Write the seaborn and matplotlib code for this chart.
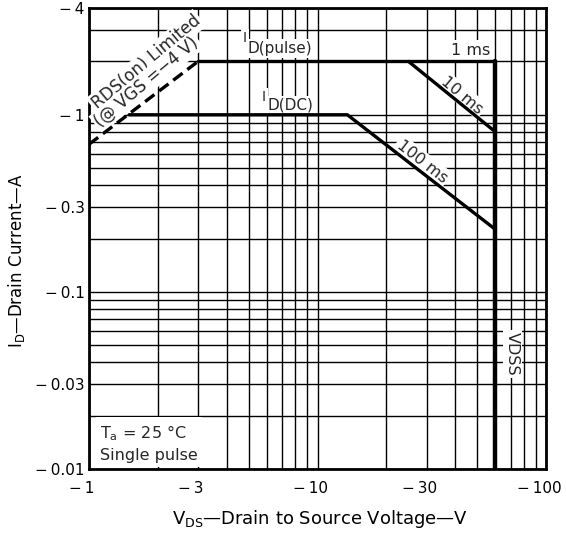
import numpy as np
import matplotlib
matplotlib.use("Agg")
import matplotlib.pyplot as plt
import matplotlib.ticker as mticker
import matplotlib.transforms as mtransforms
import seaborn as sns

sns.set_theme(style="white")
plt.rcParams['font.family'] = ['DejaVu Sans']
plt.rcParams['mathtext.fontset'] = 'dejavusans'

# area of safe operation (magnitudes, V and A)
rds_v = [1.0, 3.0]
rds_i = [0.68, 2.0]
pulse_v = [3.0, 60.0]
pulse_i = [2.0, 2.0]
ms10_v = [25.0, 60.0]
ms10_i = [2.0, 0.8]
dc_v = [1.5, 13.5, 60.0]
dc_i = [1.0, 1.0, 0.225]
vdss_v = [60.0, 60.0]
vdss_i = [2.0, 0.01]

x_ticks = [1, 3, 10, 30, 100]
x_labels = ['\u2212\u20091', '\u2212\u20093', '\u2212\u200910', '\u2212\u200930', '\u2212\u2009100']
y_ticks = [4, 1, 0.3, 0.1, 0.03, 0.01]
y_labels = ['\u2212\u20094', '\u2212\u20091', '\u2212\u20090.3', '\u2212\u20090.1',
            '\u2212\u20090.03', '\u2212\u20090.01']

fig = plt.figure(figsize=(5.66, 5.44), dpi=100)
ax = fig.add_axes([0.157, 0.138, 0.808, 0.847])
ax.set_xscale('log')
ax.set_yscale('log')
ax.set_xlim(1, 100)
ax.set_ylim(0.01, 4)

# log grid
ax.xaxis.set_minor_locator(mticker.LogLocator(base=10, subs=np.arange(1, 10)))
ax.yaxis.set_minor_locator(mticker.LogLocator(base=10, subs=np.arange(1, 10)))
ax.xaxis.set_minor_formatter(mticker.NullFormatter())
ax.yaxis.set_minor_formatter(mticker.NullFormatter())
ax.grid(True, which='both', color='black', lw=1.0)
ax.set_axisbelow(True)

ax.set_xticks(x_ticks)
ax.set_xticklabels(x_labels)
ax.set_yticks(y_ticks)
ax.set_yticklabels(y_labels)
ax.tick_params(which='both', length=0, labelsize=11, colors='black')
ax.tick_params(axis='x', pad=9)
ax.tick_params(axis='y', pad=3)
# minus sign hangs to the left of the number in the datasheet
shift = mtransforms.ScaledTranslation(-7 / 100, 0, fig.dpi_scale_trans)
for lbl in ax.get_xticklabels():
    lbl.set_transform(lbl.get_transform() + shift)

for s in ax.spines.values():
    s.set_color('black')
    s.set_linewidth(2)

kw = dict(ax=ax, color='black', estimator=None, sort=False, legend=False, zorder=5)
sns.lineplot(x=rds_v, y=rds_i, lw=2.4, linestyle=(0, (3.5, 1.8)), **kw)
sns.lineplot(x=pulse_v, y=pulse_i, lw=2.4, **kw)
sns.lineplot(x=ms10_v, y=ms10_i, lw=2.4, **kw)
sns.lineplot(x=dc_v, y=dc_i, lw=2.4, **kw)
sns.lineplot(x=vdss_v, y=vdss_i, lw=3.2, **kw)

box = dict(facecolor='white', edgecolor='none', pad=1.5)
ax.text(1.78, 1.98, 'RDS(on) Limited', rotation=40, ha='center', va='center',
        fontsize=12, bbox=box)
ax.text(1.79, 1.53, '(@ VGS =\u22124 V)', rotation=40, ha='center', va='center',
        fontsize=12, bbox=box)

# I with lowered subscript part, nearly same size as in the datasheet
ax.text(4.72, 2.72, 'I', ha='left', va='center', fontsize=10, bbox=box)
ax.text(4.96, 2.36, 'D(pulse)', ha='left', va='center', fontsize=11, bbox=box)
ax.text(5.72, 1.26, 'I', ha='left', va='center', fontsize=10, bbox=box)
ax.text(6.07, 1.13, 'D(DC)', ha='left', va='center', fontsize=11, bbox=box)

ax.text(46.5, 2.32, '1 ms', ha='center', va='center', fontsize=11.5, bbox=box)
ax.text(42.9, 1.29, '10 ms', rotation=-40, ha='center', va='center', fontsize=11.5, bbox=box)
ax.text(28.7, 0.546, '100 ms', rotation=-38, ha='center', va='center', fontsize=11.5, bbox=box)
ax.text(71, 0.0444, 'VDSS', rotation=270, ha='center', va='center', fontsize=11.5, bbox=box)
ax.text(1.12, 0.0140, 'T$_{\\rm a}$ = 25 \u00b0C\nSingle pulse', ha='left', va='center',
        fontsize=11.5, linespacing=1.45, bbox=dict(facecolor='white', edgecolor='none', pad=3))

ax.set_xlabel('V$_{\\rm DS}$\u2014Drain to Source Voltage\u2014V', fontsize=13, color='black')
ax.set_ylabel('I$_{\\rm D}$\u2014Drain Current\u2014A', fontsize=12, color='black')
ax.xaxis.set_label_coords(0.505, -0.085)
ax.yaxis.set_label_coords(-0.135, 0.451)

fig.savefig('out.png', dpi=100)
